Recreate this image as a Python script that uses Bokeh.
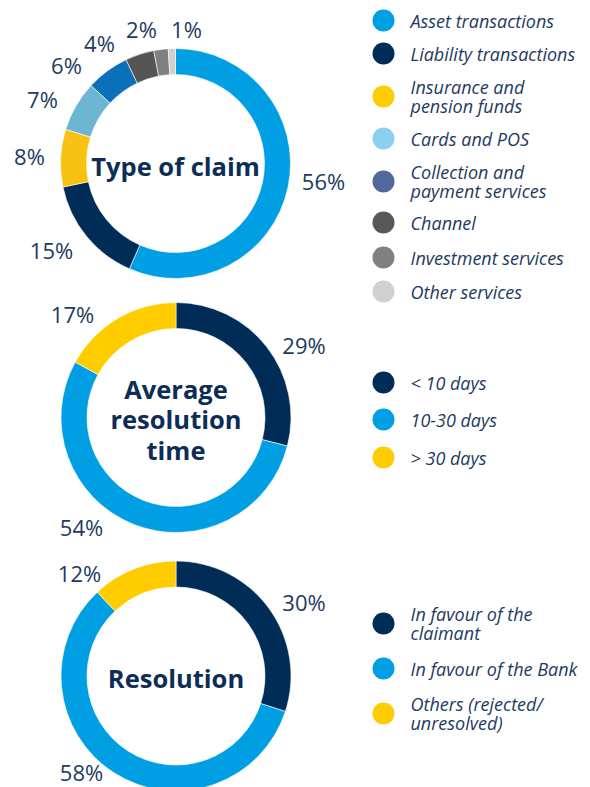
import math
from bokeh.plotting import figure
from bokeh.models import Range1d, ColumnDataSource
from bokeh.core.properties import value
from bokeh.embed import file_html
from bokeh.resources import INLINE

# ---------------- data ----------------
claim_types = ["Asset transactions", "Liability transactions", "Insurance and\npension funds",
               "Cards and POS", "Collection and\npayment services", "Channel",
               "Investment services", "Other services"]
claim_pct = [56, 15, 8, 7, 6, 4, 2, 1]

time_cats = ["< 10 days", "10-30 days", "> 30 days"]
time_pct = [29, 54, 17]

res_cats = ["In favour of the\nclaimant", "In favour of the Bank", "Others (rejected/\nunresolved)"]
res_pct = [30, 58, 12]

titles = ["Type of claim", "Average\nresolution\ntime", "Resolution"]

# ---------------- styles ----------------
claim_ring_colors = ["#009FE3", "#002D57", "#F9C213", "#6DB6D3", "#0A70B9", "#555555", "#808080", "#CFCFCF"]
claim_leg_colors = ["#009FE3", "#002D57", "#FFCC00", "#8BD0F0", "#51699A", "#575757", "#808080", "#D0D0D0"]
three_colors = ["#002D57", "#009FE3", "#FFCC00"]

LABEL_C = "#1E3A62"
TITLE_C = "#0C2D55"
FONT = "Open Sans"

W, H = 590, 787
def sy(s):
    return H - s

p = figure(width=W, height=H, output_backend="svg", toolbar_location=None,
           x_range=Range1d(0, W), y_range=Range1d(0, H), min_border=0)
p.axis.visible = False
p.grid.visible = False
p.outline_line_color = None
p.background_fill_color = "white"
p.border_fill_color = "white"

R_OUT, R_IN = 115, 89

def donut(cx, cy, vals, colors, label_off, title, title_y):
    tot = float(sum(vals))
    cum = 0.0
    starts, ends = [], []
    for v in vals:
        starts.append(math.pi / 2 - 2 * math.pi * cum / tot)
        cum += v
        ends.append(math.pi / 2 - 2 * math.pi * cum / tot)
    src = ColumnDataSource(dict(s=starts, e=ends, c=colors))
    p.annular_wedge(x=cx, y=sy(cy), inner_radius=R_IN, outer_radius=R_OUT,
                    inner_radius_units="screen", outer_radius_units="screen",
                    start_angle="s", end_angle="e", direction="clock",
                    fill_color="c", line_color="white", line_width=0.6, source=src)
    lsrc = ColumnDataSource(dict(x=[cx + dx for dx, dy in label_off],
                                 y=[sy(cy + dy) for dx, dy in label_off],
                                 t=["%d%%" % v for v in vals]))
    p.text(x="x", y="y", text="t", source=lsrc, text_font=value(FONT),
           text_font_size="22px", text_color=LABEL_C, text_align="center",
           text_baseline="middle")
    p.text(x=[cx], y=[sy(title_y)], text=[title], text_font=value(FONT),
           text_font_size="25.5px", text_font_style="bold", text_color=TITLE_C,
           text_align="center", text_baseline="middle", text_line_height=0.9)

def legend(names, colors, ys):
    p.scatter(x=[383] * len(ys), y=[sy(y) for y in ys], size=22,
              fill_color=colors, line_color=None)
    p.text(x=[410] * len(ys), y=[sy(y) for y in ys], text=names,
           text_font=value(FONT), text_font_size="18px", text_font_style="italic",
           text_color=LABEL_C, text_align="left", text_baseline="middle",
           text_line_height=0.82)

# donut 1
c1 = (175, 163)
off1 = [(148, 17), (-124, 86), (-146, -8), (-133, -65), (-109, -99), (-76, -121), (-34, -135), (11, -135)]
donut(c1[0], c1[1], claim_pct, claim_ring_colors, off1, titles[0], 165)
legend(claim_types, claim_leg_colors, [20, 53, 96, 138, 181, 222, 257, 291])

# donut 2
c2 = (175.5, 417)
off2 = [(128, -73), (-94.5, 109), (-103.5, -104)]
donut(c2[0], c2[1], time_pct, three_colors, off2, titles[1], 419)
legend(time_cats, three_colors, [382, 419, 457])

# donut 3
c3 = (175.5, 675.5)
off3 = [(128, -74.5), (-94.5, 95.5), (-96.5, -103.5)]
donut(c3[0], c3[1], res_pct, three_colors, off3, titles[2], 677)
legend(res_cats, three_colors, [623, 668, 713])

open("out.html", "w").write(file_html(p, INLINE))
